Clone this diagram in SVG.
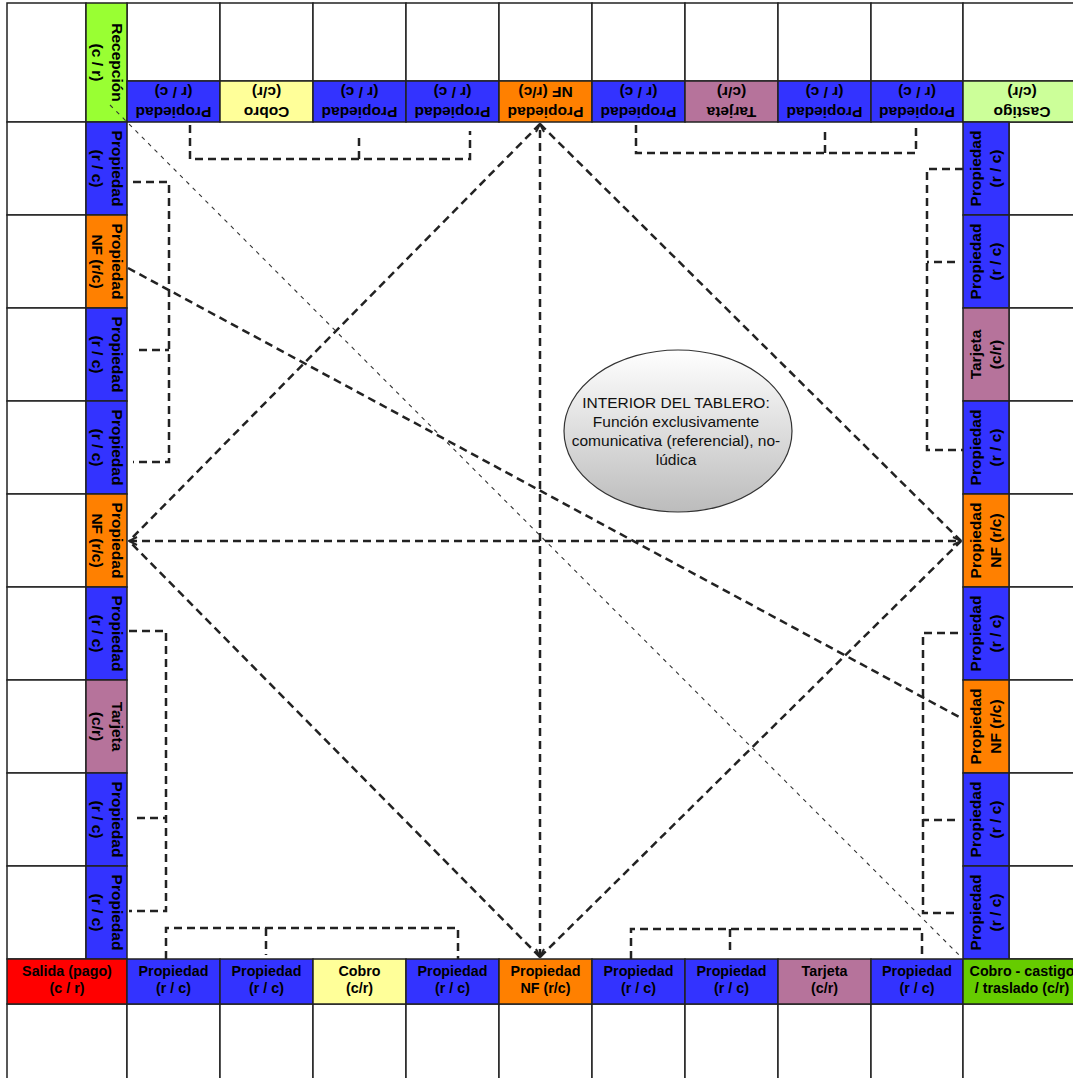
<svg xmlns="http://www.w3.org/2000/svg" width="1073" height="1078" viewBox="0 0 1073 1078">
<style>
.c{stroke:#222;stroke-width:1.5}
.w{fill:#fff}
.p{fill:#3333ff}
.nf{fill:#ff8000}
.cb{fill:#ffff99}
.tj{fill:#b6739b}
.lb{font-family:'Liberation Sans',Arial,sans-serif;font-weight:bold;font-size:15.5px;text-anchor:middle;fill:#000}
.bt{font-size:14.3px}
.d{fill:none;stroke:#222;stroke-width:2.5;stroke-dasharray:8 5}
.thin{fill:none;stroke:#333;stroke-width:1.1;stroke-dasharray:4 5}
.ell{font-family:'Liberation Sans',Arial,sans-serif;font-size:15.5px;text-anchor:middle;fill:#111}
</style>
<defs>
<marker id="ar" viewBox="0 0 10 10" refX="9" refY="5" markerWidth="10" markerHeight="10" markerUnits="userSpaceOnUse" orient="auto-start-reverse">
<path d="M1,1 L9,5 L1,9" fill="none" stroke="#222" stroke-width="2"/>
</marker>
<linearGradient id="g" x1="0" y1="0" x2="0" y2="1">
<stop offset="0" stop-color="#ffffff"/>
<stop offset="1" stop-color="#bcbcbc"/>
</linearGradient>
</defs>
<rect width="1073" height="1078" fill="#fff"/>
<g id="blank-cells" class="c w">
<rect x="7" y="3" width="79" height="119"/>
<rect x="127" y="3" width="93" height="78"/>
<rect x="220" y="3" width="93" height="78"/>
<rect x="313" y="3" width="93" height="78"/>
<rect x="406" y="3" width="93" height="78"/>
<rect x="499" y="3" width="93" height="78"/>
<rect x="592" y="3" width="93" height="78"/>
<rect x="685" y="3" width="93" height="78"/>
<rect x="778" y="3" width="93" height="78"/>
<rect x="871" y="3" width="92" height="78"/>
<rect x="963" y="3" width="118" height="78"/>
<rect x="7" y="122" width="79" height="93"/>
<rect x="7" y="215" width="79" height="93"/>
<rect x="7" y="308" width="79" height="93"/>
<rect x="7" y="401" width="79" height="93"/>
<rect x="7" y="494" width="79" height="93"/>
<rect x="7" y="587" width="79" height="93"/>
<rect x="7" y="680" width="79" height="93"/>
<rect x="7" y="773" width="79" height="93"/>
<rect x="7" y="866" width="79" height="93"/>
<rect x="1009" y="122" width="72" height="93"/>
<rect x="1009" y="215" width="72" height="93"/>
<rect x="1009" y="308" width="72" height="93"/>
<rect x="1009" y="401" width="72" height="93"/>
<rect x="1009" y="494" width="72" height="93"/>
<rect x="1009" y="587" width="72" height="93"/>
<rect x="1009" y="680" width="72" height="93"/>
<rect x="1009" y="773" width="72" height="93"/>
<rect x="1009" y="866" width="72" height="93"/>
<rect x="7" y="1004" width="120" height="80"/>
<rect x="127" y="1004" width="93" height="80"/>
<rect x="220" y="1004" width="93" height="80"/>
<rect x="313" y="1004" width="93" height="80"/>
<rect x="406" y="1004" width="93" height="80"/>
<rect x="499" y="1004" width="93" height="80"/>
<rect x="592" y="1004" width="93" height="80"/>
<rect x="685" y="1004" width="93" height="80"/>
<rect x="778" y="1004" width="93" height="80"/>
<rect x="871" y="1004" width="92" height="80"/>
<rect x="963" y="1004" width="118" height="80"/>
</g>
<g id="recepcion"><rect class="c" x="86" y="3" width="41" height="119" fill="#99ff33"/><text class="lb" transform="rotate(90 106.5 62.5)"><tspan x="106.5" y="57.5">Recepción</tspan><tspan x="106.5" y="77.5">(c / r)</tspan></text></g>
<g id="top-1"><rect class="c p" x="127" y="81" width="93" height="41"/><text class="lb" transform="rotate(180 173.5 101.5)"><tspan x="173.5" y="96.5">Propiedad</tspan><tspan x="173.5" y="116.5">(r / c)</tspan></text></g>
<g id="top-2"><rect class="c cb" x="220" y="81" width="93" height="41"/><text class="lb" transform="rotate(180 266.5 101.5)"><tspan x="266.5" y="96.5">Cobro</tspan><tspan x="266.5" y="116.5">(c/r)</tspan></text></g>
<g id="top-3"><rect class="c p" x="313" y="81" width="93" height="41"/><text class="lb" transform="rotate(180 359.5 101.5)"><tspan x="359.5" y="96.5">Propiedad</tspan><tspan x="359.5" y="116.5">(r / c)</tspan></text></g>
<g id="top-4"><rect class="c p" x="406" y="81" width="93" height="41"/><text class="lb" transform="rotate(180 452.5 101.5)"><tspan x="452.5" y="96.5">Propiedad</tspan><tspan x="452.5" y="116.5">(r / c)</tspan></text></g>
<g id="top-5"><rect class="c nf" x="499" y="81" width="93" height="41"/><text class="lb" transform="rotate(180 545.5 101.5)"><tspan x="545.5" y="96.5">Propiedad</tspan><tspan x="545.5" y="116.5">NF (r/c)</tspan></text></g>
<g id="top-6"><rect class="c p" x="592" y="81" width="93" height="41"/><text class="lb" transform="rotate(180 638.5 101.5)"><tspan x="638.5" y="96.5">Propiedad</tspan><tspan x="638.5" y="116.5">(r / c)</tspan></text></g>
<g id="top-7"><rect class="c tj" x="685" y="81" width="93" height="41"/><text class="lb" transform="rotate(180 731.5 101.5)"><tspan x="731.5" y="96.5">Tarjeta</tspan><tspan x="731.5" y="116.5">(c/r)</tspan></text></g>
<g id="top-8"><rect class="c p" x="778" y="81" width="93" height="41"/><text class="lb" transform="rotate(180 824.5 101.5)"><tspan x="824.5" y="96.5">Propiedad</tspan><tspan x="824.5" y="116.5">(r / c)</tspan></text></g>
<g id="top-9"><rect class="c p" x="871" y="81" width="92" height="41"/><text class="lb" transform="rotate(180 917 101.5)"><tspan x="917" y="96.5">Propiedad</tspan><tspan x="917" y="116.5">(r / c)</tspan></text></g>
<g id="castigo"><rect class="c" x="963" y="81" width="118" height="41" fill="#ccff99"/><text class="lb" transform="rotate(180 1022 101.5)"><tspan x="1022" y="96.5">Castigo</tspan><tspan x="1022" y="116.5">(c/r)</tspan></text></g>
<g id="left-1"><rect class="c p" x="86" y="122" width="41" height="93"/><text class="lb" transform="rotate(90 106.5 168.5)"><tspan x="106.5" y="163.5">Propiedad</tspan><tspan x="106.5" y="183.5">(r / c)</tspan></text></g>
<g id="left-2"><rect class="c nf" x="86" y="215" width="41" height="93"/><text class="lb" transform="rotate(90 106.5 261.5)"><tspan x="106.5" y="256.5">Propiedad</tspan><tspan x="106.5" y="276.5">NF (r/c)</tspan></text></g>
<g id="left-3"><rect class="c p" x="86" y="308" width="41" height="93"/><text class="lb" transform="rotate(90 106.5 354.5)"><tspan x="106.5" y="349.5">Propiedad</tspan><tspan x="106.5" y="369.5">(r / c)</tspan></text></g>
<g id="left-4"><rect class="c p" x="86" y="401" width="41" height="93"/><text class="lb" transform="rotate(90 106.5 447.5)"><tspan x="106.5" y="442.5">Propiedad</tspan><tspan x="106.5" y="462.5">(r / c)</tspan></text></g>
<g id="left-5"><rect class="c nf" x="86" y="494" width="41" height="93"/><text class="lb" transform="rotate(90 106.5 540.5)"><tspan x="106.5" y="535.5">Propiedad</tspan><tspan x="106.5" y="555.5">NF (r/c)</tspan></text></g>
<g id="left-6"><rect class="c p" x="86" y="587" width="41" height="93"/><text class="lb" transform="rotate(90 106.5 633.5)"><tspan x="106.5" y="628.5">Propiedad</tspan><tspan x="106.5" y="648.5">(r / c)</tspan></text></g>
<g id="left-7"><rect class="c tj" x="86" y="680" width="41" height="93"/><text class="lb" transform="rotate(90 106.5 726.5)"><tspan x="106.5" y="721.5">Tarjeta</tspan><tspan x="106.5" y="741.5">(c/r)</tspan></text></g>
<g id="left-8"><rect class="c p" x="86" y="773" width="41" height="93"/><text class="lb" transform="rotate(90 106.5 819.5)"><tspan x="106.5" y="814.5">Propiedad</tspan><tspan x="106.5" y="834.5">(r / c)</tspan></text></g>
<g id="left-9"><rect class="c p" x="86" y="866" width="41" height="93"/><text class="lb" transform="rotate(90 106.5 912.5)"><tspan x="106.5" y="907.5">Propiedad</tspan><tspan x="106.5" y="927.5">(r / c)</tspan></text></g>
<g id="right-1"><rect class="c p" x="963" y="122" width="46" height="93"/><text class="lb" transform="rotate(-90 986 168.5)"><tspan x="986" y="163.5">Propiedad</tspan><tspan x="986" y="183.5">(r / c)</tspan></text></g>
<g id="right-2"><rect class="c p" x="963" y="215" width="46" height="93"/><text class="lb" transform="rotate(-90 986 261.5)"><tspan x="986" y="256.5">Propiedad</tspan><tspan x="986" y="276.5">(r / c)</tspan></text></g>
<g id="right-3"><rect class="c tj" x="963" y="308" width="46" height="93"/><text class="lb" transform="rotate(-90 986 354.5)"><tspan x="986" y="349.5">Tarjeta</tspan><tspan x="986" y="369.5">(c/r)</tspan></text></g>
<g id="right-4"><rect class="c p" x="963" y="401" width="46" height="93"/><text class="lb" transform="rotate(-90 986 447.5)"><tspan x="986" y="442.5">Propiedad</tspan><tspan x="986" y="462.5">(r / c)</tspan></text></g>
<g id="right-5"><rect class="c nf" x="963" y="494" width="46" height="93"/><text class="lb" transform="rotate(-90 986 540.5)"><tspan x="986" y="535.5">Propiedad</tspan><tspan x="986" y="555.5">NF (r/c)</tspan></text></g>
<g id="right-6"><rect class="c p" x="963" y="587" width="46" height="93"/><text class="lb" transform="rotate(-90 986 633.5)"><tspan x="986" y="628.5">Propiedad</tspan><tspan x="986" y="648.5">(r / c)</tspan></text></g>
<g id="right-7"><rect class="c nf" x="963" y="680" width="46" height="93"/><text class="lb" transform="rotate(-90 986 726.5)"><tspan x="986" y="721.5">Propiedad</tspan><tspan x="986" y="741.5">NF (r/c)</tspan></text></g>
<g id="right-8"><rect class="c p" x="963" y="773" width="46" height="93"/><text class="lb" transform="rotate(-90 986 819.5)"><tspan x="986" y="814.5">Propiedad</tspan><tspan x="986" y="834.5">(r / c)</tspan></text></g>
<g id="right-9"><rect class="c p" x="963" y="866" width="46" height="93"/><text class="lb" transform="rotate(-90 986 912.5)"><tspan x="986" y="907.5">Propiedad</tspan><tspan x="986" y="927.5">(r / c)</tspan></text></g>
<g id="salida"><rect class="c" x="7" y="959" width="120" height="45" fill="#ff0000"/><text class="lb bt"><tspan x="67" y="976">Salida (pago)</tspan><tspan x="67" y="993">(c / r)</tspan></text></g>
<g id="bot-1"><rect class="c p" x="127" y="959" width="93" height="45"/><text class="lb bt"><tspan x="173.5" y="976">Propiedad</tspan><tspan x="173.5" y="993">(r / c)</tspan></text></g>
<g id="bot-2"><rect class="c p" x="220" y="959" width="93" height="45"/><text class="lb bt"><tspan x="266.5" y="976">Propiedad</tspan><tspan x="266.5" y="993">(r / c)</tspan></text></g>
<g id="bot-3"><rect class="c cb" x="313" y="959" width="93" height="45"/><text class="lb bt"><tspan x="359.5" y="976">Cobro</tspan><tspan x="359.5" y="993">(c/r)</tspan></text></g>
<g id="bot-4"><rect class="c p" x="406" y="959" width="93" height="45"/><text class="lb bt"><tspan x="452.5" y="976">Propiedad</tspan><tspan x="452.5" y="993">(r / c)</tspan></text></g>
<g id="bot-5"><rect class="c nf" x="499" y="959" width="93" height="45"/><text class="lb bt"><tspan x="545.5" y="976">Propiedad</tspan><tspan x="545.5" y="993">NF (r/c)</tspan></text></g>
<g id="bot-6"><rect class="c p" x="592" y="959" width="93" height="45"/><text class="lb bt"><tspan x="638.5" y="976">Propiedad</tspan><tspan x="638.5" y="993">(r / c)</tspan></text></g>
<g id="bot-7"><rect class="c p" x="685" y="959" width="93" height="45"/><text class="lb bt"><tspan x="731.5" y="976">Propiedad</tspan><tspan x="731.5" y="993">(r / c)</tspan></text></g>
<g id="bot-8"><rect class="c tj" x="778" y="959" width="93" height="45"/><text class="lb bt"><tspan x="824.5" y="976">Tarjeta</tspan><tspan x="824.5" y="993">(c/r)</tspan></text></g>
<g id="bot-9"><rect class="c p" x="871" y="959" width="92" height="45"/><text class="lb bt"><tspan x="917" y="976">Propiedad</tspan><tspan x="917" y="993">(r / c)</tspan></text></g>
<g id="cobro-castigo"><rect class="c" x="963" y="959" width="118" height="45" fill="#66cc00"/><text class="lb bt"><tspan x="1022" y="976">Cobro - castigo</tspan><tspan x="1022" y="993">/ traslado (c/r)</tspan></text></g>
<g id="connectors">
<line class="thin" x1="110" y1="105" x2="963" y2="959"/>
<line class="d" x1="540" y1="124" x2="129" y2="541"/>
<line class="d" x1="540" y1="124" x2="961" y2="541"/>
<line class="d" x1="540" y1="957" x2="129" y2="541"/>
<line class="d" x1="540" y1="957" x2="961" y2="541"/>
<line class="d" x1="540" y1="957" x2="540" y2="124" marker-start="url(#ar)" marker-end="url(#ar)"/>
<line class="d" x1="129" y1="541" x2="961" y2="541" marker-start="url(#ar)" marker-end="url(#ar)"/>
<line class="d" x1="128" y1="268" x2="961" y2="718"/>
<path class="d" d="M190,125 V159 H470 V131 M359,138 V159"/>
<path class="d" d="M636,125 V153 H916 V127 M825,132 V153"/>
<path class="d" d="M133,182 H169 V462 H133 M139,350 H169"/>
<path class="d" d="M129,631 H166 V911 H129 M137,818 H166"/>
<path class="d" d="M166,959 V928 H458 V959 M266,928 V955"/>
<path class="d" d="M631,959 V929 H922 V959 M730,929 V955"/>
<path class="d" d="M963,169 H927 V450 H963 M955,262 H927"/>
<path class="d" d="M958,633 H923 V913 H955 M955,820 H923"/>
</g>
<g id="interior">
<ellipse cx="678" cy="431" rx="114" ry="81" fill="url(#g)" stroke="#333" stroke-width="1.2"/>
<text class="ell"><tspan x="676" y="408">INTERIOR DEL TABLERO:</tspan><tspan x="676" y="427">Función exclusivamente</tspan><tspan x="676" y="446">comunicativa (referencial), no-</tspan><tspan x="676" y="465">lúdica</tspan></text>
</g>
</svg>
